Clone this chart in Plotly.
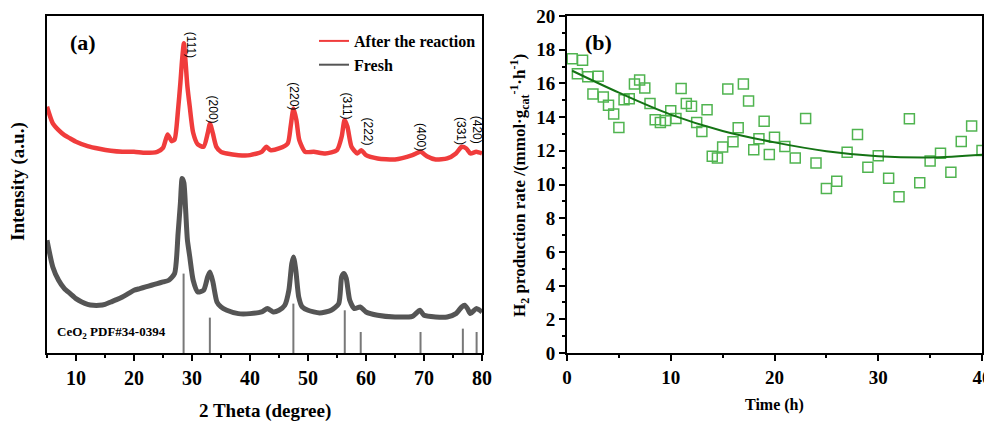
import plotly.graph_objects as go
from plotly.subplots import make_subplots

# ---- panel (a): XRD patterns (intensity in arbitrary units) ----
two_theta_after = [5, 6, 7, 8, 9, 10, 12, 14, 16, 18, 20, 22, 24, 25, 25.8, 26.5, 27, 27.6, 28.0, 28.3,
                   28.6, 28.9, 29.2, 29.6, 30.2, 31, 32, 32.7, 33.1, 33.6, 34.2, 35, 36, 38, 40, 42,
                   42.8, 43.5, 45, 46.5, 47, 47.5, 48, 48.5, 49.5, 51, 53, 55, 55.8, 56.3, 56.8, 57.5,
                   58.5, 59.2, 60, 62, 65, 68, 69.4, 70.5, 72, 74, 75.5, 76.5, 77.3, 78, 79, 80]
intensity_after = [738, 688, 668, 653, 643, 633, 620, 612, 606, 603, 603, 600, 603, 615, 655, 635, 640,
                   730, 810, 880, 928, 870, 800, 740, 660, 625, 618, 658, 688, 658, 618, 603, 598, 593,
                   593, 603, 618, 608, 613, 628, 678, 733, 698, 638, 603, 603, 598, 608, 648, 698, 678,
                   618, 598, 608, 593, 583, 580, 593, 603, 590, 580, 583, 598, 618, 613, 598, 603, 598]

two_theta_fresh = [5, 6, 7, 8, 9, 10, 11, 12, 13, 14, 15, 16, 17, 18, 19, 20, 21, 22, 23, 24, 25, 26,
                   27, 27.6, 28.0, 28.3, 28.6, 28.9, 29.2, 29.6, 30.2, 31, 32, 32.7, 33.1, 33.6, 34.3,
                   35, 36, 38, 40, 42, 43, 44, 45, 46, 46.7, 47.2, 47.5, 47.9, 48.4, 49, 50, 52, 54,
                   55.3, 55.8, 56.2, 56.6, 57.2, 58, 59, 60, 62, 65, 68, 69.3, 70, 72, 74, 75.5, 76.5,
                   77, 77.5, 78, 79, 80]
intensity_fresh = [338, 258, 218, 193, 178, 163, 153, 146, 143, 143, 146, 153, 160, 168, 178, 188, 193,
                   198, 203, 208, 213, 218, 238, 358, 450, 523, 510, 430, 340, 290, 218, 183, 188, 228,
                   243, 213, 153, 138, 128, 118, 118, 123, 133, 123, 128, 143, 188, 268, 288, 248, 168,
                   138, 128, 120, 128, 148, 228, 238, 223, 158, 133, 138, 123, 113, 108, 110, 128, 113,
                   108, 108, 118, 138, 143, 133, 118, 133, 123]

# CeO2 PDF#34-0394 reference lines
ref_pos = [28.55, 33.08, 47.48, 56.34, 59.09, 69.40, 76.70, 79.07]
ref_height = [238, 106, 148, 128, 63, 63, 73, 63]

hkl_labels = ['(111)', '(200)', '(220)', '(311)', '(222)', '(400)', '(331)', '(420)']
hkl_x = [29.8, 33.6, 47.55, 56.66, 60.4, 69.6, 76.4, 79.2]
hkl_y = [924, 730, 770, 740, 663, 648, 665, 668]

# ---- panel (b): H2 production rate vs time ----
time_h = [0.5, 1.0, 1.5, 2.0, 2.5, 3.0, 3.5, 4.0, 4.5, 5.0, 5.5, 6.0, 6.5, 7.0, 7.5, 8.0, 8.5, 9.0,
          9.5, 10.0, 10.5, 11.0, 11.5, 12.0, 12.5, 13.0, 13.5, 14.0, 14.5, 15.0, 15.5, 16.0, 16.5,
          17.0, 17.5, 18.0, 18.5, 19.0, 19.5, 20.0, 21, 22, 23, 24, 25, 26, 27, 28, 29, 30, 31, 32,
          33, 34, 35, 36, 37, 38, 39, 40]
h2_rate = [17.46, 16.58, 17.38, 16.39, 15.37, 16.42, 15.19, 14.70, 14.18, 13.39, 15.03, 15.09, 15.97,
           16.20, 15.73, 14.80, 13.84, 13.68, 13.80, 14.38, 13.92, 15.69, 14.80, 14.64, 13.68, 13.15,
           14.44, 11.68, 11.58, 12.23, 15.67, 12.53, 13.37, 15.97, 14.96, 12.06, 12.71, 13.76, 11.78,
           12.81, 12.25, 11.58, 13.92, 11.28, 9.77, 10.19, 11.92, 12.97, 11.02, 11.70, 10.37, 9.27,
           13.90, 10.11, 11.40, 11.86, 10.72, 12.55, 13.47, 12.02]

# fitted trend
fit_time = [0.5, 5, 10, 15, 20, 25, 30, 35, 40]
fit_rate = [16.75, 15.45, 14.15, 13.18, 12.50, 11.98, 11.68, 11.60, 11.76]

SERIF = 'Liberation Serif'
RED = 'rgb(240,60,60)'
GRAY = 'rgb(85,85,85)'

# page body has an 8px margin, so the figure is 984x415 and positions are given in window pixels
W, H, OFF = 984, 415, 8


def px(x):
    return (x - OFF) / W


def py(y):
    return 1 - (y - OFF) / H


fig = make_subplots(rows=1, cols=2)

fig.add_trace(go.Scatter(x=two_theta_after, y=intensity_after, mode='lines', showlegend=False,
                         line=dict(color=RED, width=4.5, shape='spline', smoothing=0.6)), 1, 1)
fig.add_trace(go.Scatter(x=two_theta_fresh, y=intensity_fresh, mode='lines', showlegend=False,
                         line=dict(color=GRAY, width=5, shape='spline', smoothing=0.6)), 1, 1)

# thin legend entries
fig.add_trace(go.Scatter(x=[None], y=[None], mode='lines', name='After the reaction',
                         line=dict(color=RED, width=2)), 1, 1)
fig.add_trace(go.Scatter(x=[None], y=[None], mode='lines', name='Fresh',
                         line=dict(color=GRAY, width=2)), 1, 1)

ref_x, ref_y = [], []
for p, h in zip(ref_pos, ref_height):
    ref_x += [p, p, None]
    ref_y += [0, h, None]
fig.add_trace(go.Scatter(x=ref_x, y=ref_y, mode='lines', showlegend=False,
                         line=dict(color='rgb(120,120,120)', width=2)), 1, 1)

fig.add_trace(go.Scatter(x=time_h, y=h2_rate, mode='markers', showlegend=False,
                         marker=dict(symbol='square-open', size=10, color='rgb(80,180,80)',
                                     line=dict(width=1.5))), 1, 2)
fig.add_trace(go.Scatter(x=fit_time, y=fit_rate, mode='lines', showlegend=False,
                         line=dict(color='rgb(20,115,20)', width=2, shape='spline')), 1, 2)

axis_style = dict(showline=True, mirror=True, linecolor='black', linewidth=2, showgrid=False,
                  zeroline=False, ticks='outside', tickwidth=2, ticklen=6, tickcolor='black',
                  automargin=False, ticklabeloverflow='allow')
y_dom = [py(353), py(16)]

fig.update_xaxes(domain=[px(47), px(482)], range=[5, 80], tickvals=[10, 20, 30, 40, 50, 60, 70, 80],
                 minor=dict(ticks='outside', tickvals=[5, 15, 25, 35, 45, 55, 65, 75], ticklen=3,
                            tickwidth=2, tickcolor='black'),
                 tickfont=dict(family=SERIF, size=20, color='black', weight='bold'), **axis_style,
                 row=1, col=1)
fig.update_yaxes(domain=y_dom, range=[0, 1010], showticklabels=False,
                 **{**axis_style, 'ticks': ''}, row=1, col=1)

fig.update_xaxes(domain=[px(567), px(982)], range=[0, 40], dtick=10,
                 minor=dict(ticks='outside', dtick=5, ticklen=3, tickwidth=2, tickcolor='black'),
                 tickfont=dict(family=SERIF, size=19, color='black', weight='bold'), **axis_style,
                 row=1, col=2)
fig.update_yaxes(domain=y_dom, range=[0, 20], dtick=2,
                 minor=dict(ticks='outside', dtick=1, ticklen=3, tickwidth=2, tickcolor='black'),
                 tickfont=dict(family=SERIF, size=19, color='black', weight='bold'), **axis_style,
                 row=1, col=2)

annotations = []
for lab, x, y in zip(hkl_labels, hkl_x, hkl_y):
    annotations.append(dict(text=lab, x=x, y=y, xref='x', yref='y', showarrow=False, textangle=90,
                            font=dict(family='Liberation Sans', size=12, color='black')))

annotations += [
    dict(text='<b>(a)</b>', x=px(68), y=py(43), xanchor='left',
         font=dict(family=SERIF, size=22, color='black')),
    dict(text='<b>(b)</b>', x=px(583), y=py(43), xanchor='left',
         font=dict(family=SERIF, size=22, color='black')),
    dict(text='<b>CeO<sub>2</sub> PDF#34-0394</b>', x=px(55), y=py(332), xanchor='left',
         font=dict(family=SERIF, size=13, color='black')),
    dict(text='<b>2 Theta (degree)</b>', x=px(265), y=py(411), xanchor='center',
         font=dict(family=SERIF, size=19, color='black')),
    dict(text='<b>Intensity (a.u.)</b>', x=px(18), y=py(182), textangle=-90, xanchor='center',
         font=dict(family=SERIF, size=19, color='black')),
    dict(text='<b>Time (h)</b>', x=px(774), y=py(405), xanchor='center',
         font=dict(family=SERIF, size=16, color='black')),
    dict(text='<b>H<sub>2</sub> production rate /(mmol·g<sub>cat</sub><sup>-1</sup>·h<sup>-1</sup>)</b>',
         x=px(519), y=py(186), textangle=-90, xanchor='center',
         font=dict(family=SERIF, size=17, color='black')),
]
for a in annotations[len(hkl_labels):]:
    a.update(xref='paper', yref='paper', showarrow=False, yanchor='middle')

fig.update_layout(
    width=W, height=H,
    margin=dict(l=0, r=0, t=0, b=0, autoexpand=False),
    plot_bgcolor='white', paper_bgcolor='white',
    showlegend=True,
    legend=dict(x=px(314), y=py(24), xanchor='left', yanchor='top', bgcolor='rgba(0,0,0,0)',
                font=dict(family=SERIF, size=16, color='black', weight='bold'),
                tracegroupgap=0, itemwidth=30),
    annotations=annotations,
)

fig.write_html("out.html")
